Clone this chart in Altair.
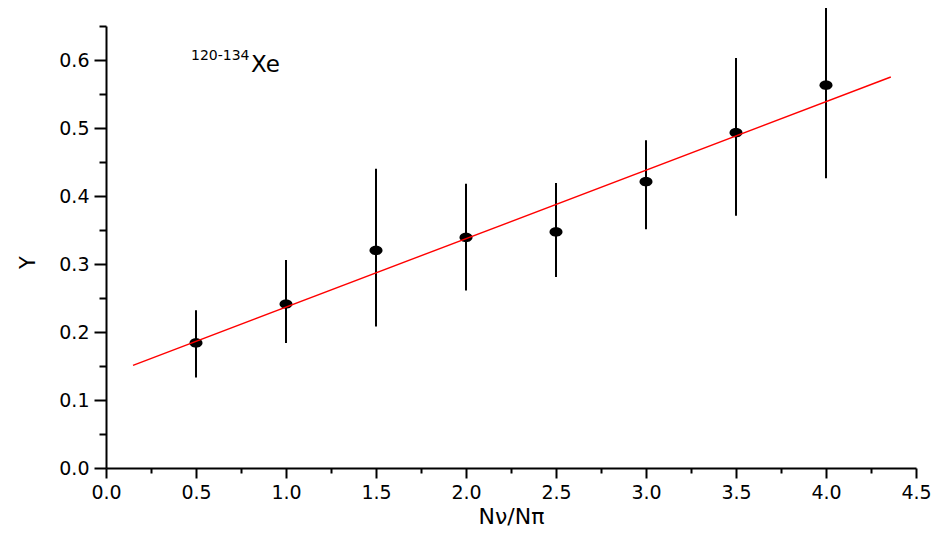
import altair as alt
import pandas as pd

# data
x_vals = [0.5, 1.0, 1.5, 2.0, 2.5, 3.0, 3.5, 4.0]
y_vals = [0.184, 0.241, 0.320, 0.339, 0.347, 0.421, 0.493, 0.563]
y_lo = [0.133, 0.184, 0.208, 0.261, 0.281, 0.351, 0.371, 0.426]
y_hi = [0.232, 0.306, 0.440, 0.418, 0.419, 0.482, 0.603, 0.679]

fit_x = [0.15, 4.36]
fit_y = [0.151, 0.575]

x_major = [0.0, 0.5, 1.0, 1.5, 2.0, 2.5, 3.0, 3.5, 4.0, 4.5]
x_minor = [0.25, 0.75, 1.25, 1.75, 2.25, 2.75, 3.25, 3.75, 4.25]
y_major = [0.0, 0.1, 0.2, 0.3, 0.4, 0.5, 0.6]
y_minor = [0.05, 0.15, 0.25, 0.35, 0.45, 0.55, 0.65]

df = pd.DataFrame({"x": x_vals, "y": y_vals, "lo": y_lo, "hi": y_hi})
fit = pd.DataFrame({"x": fit_x, "y": fit_y})

FONT = "DejaVu Sans"
xscale = alt.Scale(domain=[0, 4.5], nice=False, zero=False)
yscale = alt.Scale(domain=[0, 0.65], nice=False, zero=False)

x_axis = alt.Axis(values=x_major, format=".1f", tickSize=10, tickWidth=2,
                  domainWidth=2, domainColor="black", tickColor="black",
                  labelFont=FONT, labelFontSize=19, labelColor="black",
                  labelPadding=5, labelFlush=False, grid=False, orient="bottom",
                  title="Nν/Nπ", titleFont=FONT, titleFontSize=22,
                  titleFontWeight="normal", titleColor="black",
                  titleBaseline="alphabetic", titleY=55)
y_axis = alt.Axis(values=y_major, format=".1f", tickSize=12, tickWidth=2,
                  domainWidth=2, domainColor="black", tickColor="black",
                  labelFont=FONT, labelFontSize=19, labelColor="black",
                  labelPadding=5, labelFlush=False, grid=False, orient="left",
                  title="Y", titleFont=FONT, titleFontSize=21,
                  titleFontWeight="normal", titleColor="black",
                  titleAngle=-90, titleAlign="center", titleBaseline="middle",
                  titleX=-78, titleY=236)

x_minor_axis = alt.Axis(values=x_minor, tickSize=5, tickWidth=2, labels=False,
                        domain=False, tickColor="black", grid=False,
                        orient="bottom", title=None)
y_minor_axis = alt.Axis(values=y_minor, tickSize=7, tickWidth=2, labels=False,
                        domain=False, tickColor="black", grid=False,
                        orient="left", title=None)

base = alt.Chart(df)

errbars = base.mark_rule(color="black", strokeWidth=2).encode(
    x=alt.X("x:Q", scale=xscale, axis=x_axis),
    y=alt.Y("lo:Q", scale=yscale, axis=y_axis),
    y2="hi:Q",
)

minor = base.mark_point(opacity=0).encode(
    x=alt.X("x:Q", scale=xscale, axis=x_minor_axis),
    y=alt.Y("y:Q", scale=yscale, axis=y_minor_axis),
)

ellipse = "M-1,0A1,0.72 0 1,0 1,0A1,0.72 0 1,0 -1,0Z"
points = base.mark_point(shape=ellipse, filled=True, color="black",
                         opacity=1, size=169).encode(
    x=alt.X("x:Q", scale=xscale, axis=None),
    y=alt.Y("y:Q", scale=yscale, axis=None),
)

line = alt.Chart(fit).mark_line(color="#ff0000", strokeWidth=1.4).encode(
    x=alt.X("x:Q", scale=xscale, axis=None),
    y=alt.Y("y:Q", scale=yscale, axis=None),
)

sup = alt.Chart(pd.DataFrame({"t": ["120-134"]})).mark_text(
    font=FONT, fontSize=14, align="left", baseline="alphabetic", color="black"
).encode(x=alt.value(85), y=alt.value(34), text="t:N")

xe = alt.Chart(pd.DataFrame({"t": ["Xe"]})).mark_text(
    font=FONT, fontSize=23, align="left", baseline="alphabetic", color="black"
).encode(x=alt.value(145), y=alt.value(46), text="t:N")

chart = alt.layer(errbars, minor, points, line, sup, xe).resolve_axis(
    x="independent", y="independent"
).properties(
    width=810, height=442,
    background="white",
    autosize=alt.AutoSizeParams(type="none"),
    padding={"left": 98, "top": 18, "right": 16, "bottom": 67},
).configure_view(stroke="transparent", strokeWidth=0)

chart.save("out.html", embed_options={"renderer": "svg", "actions": False})
